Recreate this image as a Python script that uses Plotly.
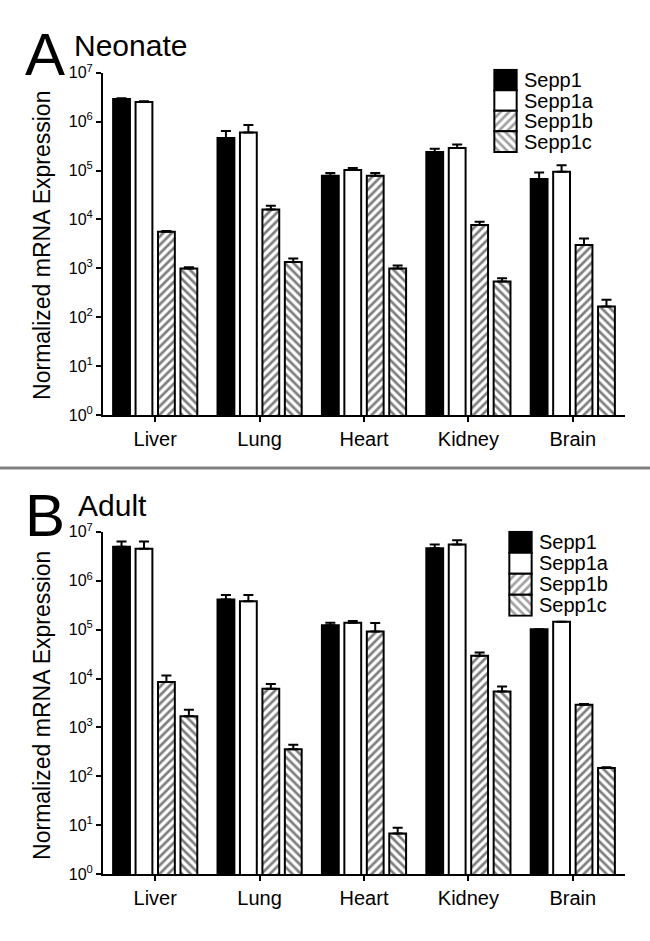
import plotly.graph_objects as go

# ---------------- data ----------------
tissues = ["Liver", "Lung", "Heart", "Kidney", "Brain"]
series = ["Sepp1", "Sepp1a", "Sepp1b", "Sepp1c"]
y_tick_vals = [1, 10, 100, 1000, 10000, 100000, 1000000, 10000000]
y_tick_text = ["10<sup>0</sup>", "10<sup>1</sup>", "10<sup>2</sup>", "10<sup>3</sup>",
               "10<sup>4</sup>", "10<sup>5</sup>", "10<sup>6</sup>", "10<sup>7</sup>"]

# Neonate (panel A): means and upper error (SEM)
neo_sepp1 = [2.9e6, 4.6e5, 7.8e4, 2.4e5, 6.7e4]
neo_sepp1a = [2.5e6, 6.0e5, 1.02e5, 2.9e5, 9.4e4]
neo_sepp1b = [5.6e3, 1.6e4, 7.8e4, 7.7e3, 3.0e3]
neo_sepp1c = [1.0e3, 1.35e3, 1.0e3, 5.4e2, 1.66e2]
neo_err_sepp1 = [1.0e5, 1.8e5, 1.1e4, 4.0e4, 2.4e4]
neo_err_sepp1a = [1.0e5, 2.5e5, 1.1e4, 5.0e4, 3.4e4]
neo_err_sepp1b = [2.0e2, 3.0e3, 1.1e4, 1.3e3, 1.1e3]
neo_err_sepp1c = [5.0e1, 2.5e2, 1.5e2, 9.0e1, 6.4e1]

# Adult (panel B)
adu_sepp1 = [4.9e6, 4.1e5, 1.22e5, 4.6e6, 1.02e5]
adu_sepp1a = [4.5e6, 3.8e5, 1.38e5, 5.5e6, 1.45e5]
adu_sepp1b = [8.5e3, 6.2e3, 9.1e4, 2.9e4, 2.9e3]
adu_sepp1c = [1.7e3, 3.6e2, 6.8, 5.4e3, 1.48e2]
adu_err_sepp1 = [1.4e6, 1.0e5, 1.5e4, 9.0e5, 0]
adu_err_sepp1a = [1.8e6, 1.3e5, 1.2e4, 1.2e6, 0]
adu_err_sepp1b = [3.0e3, 1.5e3, 4.5e4, 5.0e3, 1.0e2]
adu_err_sepp1c = [6.0e2, 8.5e1, 2.1, 1.5e3, 5.0]

panel_titles = ["Neonate", "Adult"]
panel_letters = ["A", "B"]
y_title = "Normalized mRNA Expression"

# ---------------- style ----------------
FONT = "Liberation Sans, Arial, Helvetica, sans-serif"
W, H = 650, 941
fills = ["black", "white", "white", "white"]
shapes = ["", "", "/", "\\"]
PAT = dict(fgcolor="black", size=6, solidity=0.45)


def px_x(p):
    return p / W


def px_y(p):
    return 1 - p / H


fig = go.Figure()

panels = [
    ([neo_sepp1, neo_sepp1a, neo_sepp1b, neo_sepp1c],
     [neo_err_sepp1, neo_err_sepp1a, neo_err_sepp1b, neo_err_sepp1c], "x", "y"),
    ([adu_sepp1, adu_sepp1a, adu_sepp1b, adu_sepp1c],
     [adu_err_sepp1, adu_err_sepp1a, adu_err_sepp1b, adu_err_sepp1c], "x2", "y2"),
]

for means, errs, xa, ya in panels:
    for i, s in enumerate(series):
        fig.add_trace(go.Bar(
            x=tissues, y=means[i], name=s, xaxis=xa, yaxis=ya, showlegend=False,
            marker=dict(color=fills[i], line=dict(color="black", width=2),
                        pattern=dict(shape=shapes[i], bgcolor=fills[i], **PAT)),
            error_y=dict(type="data", symmetric=False, array=errs[i],
                         arrayminus=[0] * len(tissues), color="black",
                         thickness=2, width=5),
        ))

# legend-like key drawn as small bar charts
for xa, ya in [("x3", "y3"), ("x4", "y4")]:
    fig.add_trace(go.Bar(
        x=[1] * len(series), y=series, orientation="h", width=1, xaxis=xa, yaxis=ya,
        showlegend=False, hoverinfo="skip",
        marker=dict(color=fills, line=dict(color="black", width=2),
                    pattern=dict(shape=shapes, bgcolor=fills, **PAT)),
    ))

# main axes geometry (pixels)
plot_left, plot_right = 103, 625
panel_y = [(63, 413), (532, 882)]

xcommon = dict(type="category", range=[-0.5, 4.5], showline=True, linecolor="black",
               linewidth=2, ticks="outside", ticklen=5, tickwidth=2, tickcolor="black",
               tickfont=dict(family=FONT, size=20, color="black"), showgrid=False,
               zeroline=False, fixedrange=True)
ycommon = dict(type="log", range=[0, 7], showline=True, linecolor="black", linewidth=2,
               ticks="outside", ticklen=5, tickwidth=2, tickcolor="black",
               tickmode="array", tickvals=y_tick_vals, ticktext=y_tick_text,
               tickfont=dict(family=FONT, size=16, color="black"), showgrid=False,
               zeroline=False, fixedrange=True)

layout = dict(
    width=W, height=H, margin=dict(l=0, r=0, t=0, b=0),
    paper_bgcolor="white", plot_bgcolor="white",
    barmode="group", bargap=0.14, bargroupgap=0.25,
    showlegend=False,
    font=dict(family=FONT, color="black"),
)
layout["xaxis"] = dict(xcommon, domain=[px_x(plot_left), px_x(plot_right)], anchor="y")
layout["yaxis"] = dict(ycommon, domain=[px_y(panel_y[0][1]), px_y(panel_y[0][0])], anchor="x")
layout["xaxis2"] = dict(xcommon, domain=[px_x(plot_left), px_x(plot_right)], anchor="y2")
layout["yaxis2"] = dict(ycommon, domain=[px_y(panel_y[1][1]), px_y(panel_y[1][0])], anchor="x2")

# key axes
keys = [((493, 518), (59, 145)), ((508, 533), (531, 619))]
for k, ((kx0, kx1), (ky0, ky1)) in enumerate(keys):
    xn, yn = ("xaxis3", "yaxis3") if k == 0 else ("xaxis4", "yaxis4")
    xr, yr = ("y3", "x3") if k == 0 else ("y4", "x4")
    layout[xn] = dict(domain=[px_x(kx0), px_x(kx1)], range=[-0.06, 1.06], visible=False,
                      anchor=xr, fixedrange=True)
    layout[yn] = dict(domain=[px_y(ky1), px_y(ky0)], type="category",
                      categoryorder="array", categoryarray=series,
                      tickmode="array", tickvals=series, ticktext=series,
                      range=[3.55, -0.55], side="right", showline=False, ticks="",
                      showgrid=False, zeroline=False, anchor=yr, ticklabelstandoff=5,
                      tickfont=dict(family=FONT, size=20, color="black"), fixedrange=True)

fig.update_layout(**layout)

# panel letters, titles, axis titles
ann = []
letter_pos = [(23, 44), (23, 515)]
title_pos = [(72, 35), (76, 505)]
ytitle_center = [240, 710]
for k in range(2):
    ann.append(dict(text=panel_letters[k], x=px_x(letter_pos[k][0]), y=px_y(letter_pos[k][1]),
                    xref="paper", yref="paper", xanchor="left", yanchor="middle",
                    showarrow=False, font=dict(family=FONT, size=60, color="black")))
    ann.append(dict(text=panel_titles[k], x=px_x(title_pos[k][0]), y=px_y(title_pos[k][1]),
                    xref="paper", yref="paper", xanchor="left", yanchor="middle",
                    showarrow=False, font=dict(family=FONT, size=30, color="black")))
    ann.append(dict(text=y_title, x=px_x(42), y=px_y(ytitle_center[k]), xref="paper",
                    yref="paper", xanchor="center", yanchor="middle", textangle=-90,
                    showarrow=False, font=dict(family=FONT, size=23, color="black")))
fig.update_layout(annotations=ann)

# separator line between panels
fig.add_shape(type="line", xref="paper", yref="paper", x0=0, x1=1,
              y0=px_y(467), y1=px_y(467), line=dict(color="#808080", width=3))

fig.write_html("out.html", config={"displayModeBar": False},
               post_script="document.body.style.margin='0px';")
